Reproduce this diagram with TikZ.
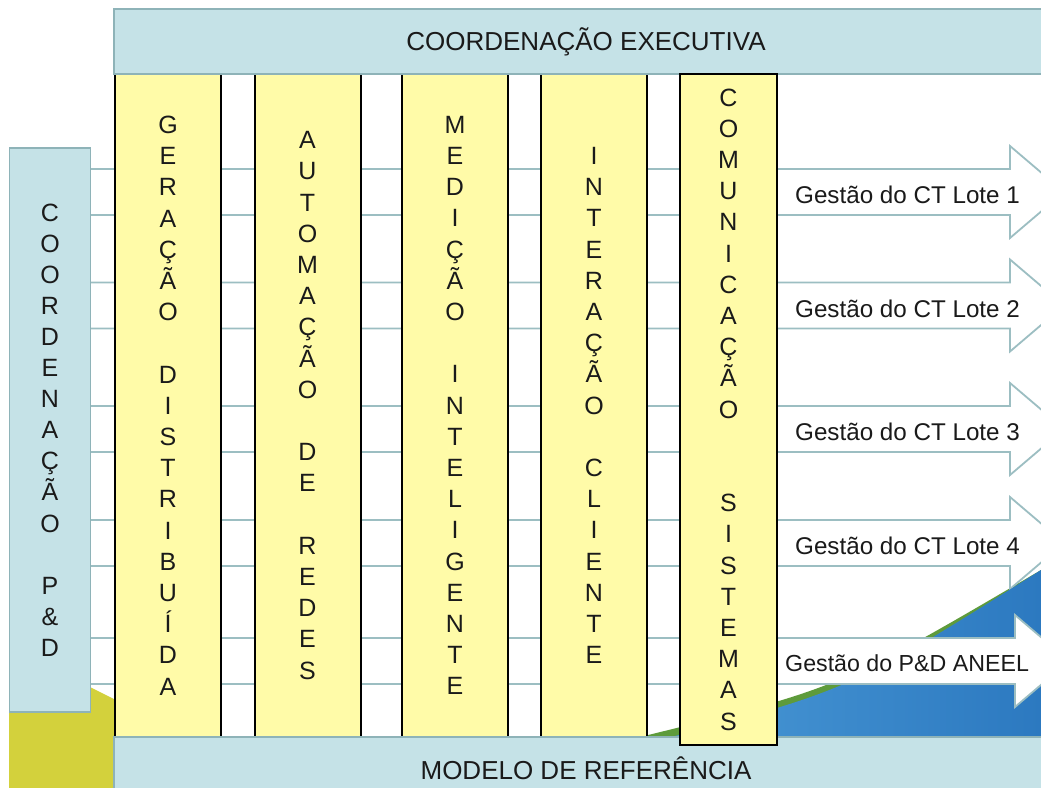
\documentclass[tikz,border=0pt]{standalone}
\usepackage{fontspec}
\setmainfont{Liberation Sans}
\definecolor{boxfill}{HTML}{C5E2E7}
\definecolor{boxline}{HTML}{8EB3B8}
\definecolor{colfill}{HTML}{FFFBA8}
\definecolor{arrline}{HTML}{9CBEC2}
\definecolor{olive}{HTML}{D3D13C}
\definecolor{grn}{HTML}{5E9B3B}
\definecolor{blueA}{HTML}{4A99D6}
\definecolor{blueB}{HTML}{2C79C0}
\definecolor{ink}{HTML}{1A1A1A}
\begin{document}
\begin{tikzpicture}[x=1pt,y=-1pt,
  boxstyle/.style={draw=boxline, fill=boxfill, line width=1.5pt, inner sep=0pt, text=ink},
  colstyle/.style={draw=black, fill=colfill, line width=2pt, inner sep=0pt, align=center, text=ink,
     minimum width=106pt, minimum height=663pt, font=\fontsize{25}{31.2}\selectfont},
  arrowstyle/.style={draw=arrline, fill=white, line width=1.8pt, line join=miter},
  lbl/.style={anchor=west, inner sep=0pt, text=ink, font=\fontsize{24.2}{28}\selectfont},
  ttl/.style={font=\fontsize{26}{30}\selectfont}]
\useasboundingbox (0,0) rectangle (1041,787);
\clip (0,0) rectangle (1041,787);
\fill[white] (0,0) rectangle (1041,787);
% background shapes
\fill[olive] (9,680) -- (90,687) -- (116,700) -- (116,790) -- (9,790) -- cycle;
\fill[grn] (640,737) .. controls (840,688) .. (1041,570) -- (1041,740) -- (640,740) -- cycle;
% arrows
\newcommand{\blockarrow}[2]{%
  \draw[arrowstyle] (60,#1-23) -- (#2,#1-23) -- (#2,#1-46) -- (#2+54,#1) -- (#2,#1+46) -- (#2,#1+23) -- (60,#1+23) -- cycle;}
\blockarrow{192}{1010}
\blockarrow{305.5}{1010}
\blockarrow{429}{1010}
\blockarrow{543}{1010}
\shade[left color=blueA, right color=blueB] (660,740) .. controls (850,690) .. (1041,570) -- (1041,740) -- cycle;
\blockarrow{661}{1015}
% columns
\node[colstyle] (c1) at (168,405.5) {G\\E\\R\\A\\Ç\\Ã\\O\\~\\D\\I\\S\\T\\R\\I\\B\\U\\Í\\D\\A};
\node[colstyle] (c2) at (307.5,405.5) {A\\U\\T\\O\\M\\A\\Ç\\Ã\\O\\~\\D\\E\\~\\R\\E\\D\\E\\S};
\node[colstyle] (c3) at (455,405.5) {M\\E\\D\\I\\Ç\\Ã\\O\\~\\I\\N\\T\\E\\L\\I\\G\\E\\N\\T\\E};
\node[colstyle] (c4) at (594,405.5) {I\\N\\T\\E\\R\\A\\Ç\\Ã\\O\\~\\C\\L\\I\\E\\N\\T\\E};
% horizontal boxes
\node[boxstyle, minimum width=944pt, minimum height=65pt, ttl] (exec) at (586,41.5) {COORDENAÇÃO EXECUTIVA};
\node[boxstyle, minimum width=944pt, minimum height=63pt, ttl] (ref) at (586,768.5) {MODELO DE REFERÊNCIA};
\node[boxstyle, minimum width=81pt, minimum height=564pt, align=center, font=\fontsize{25}{31.1}\selectfont] (pd) at (50,430)
  {C\\O\\O\\R\\D\\E\\N\\A\\Ç\\Ã\\O\\~\\P\\\&\\D};
\node[colstyle, minimum width=97pt, minimum height=671pt] (c5) at (728.5,409.5)
  {C\\O\\M\\U\\N\\I\\C\\A\\Ç\\Ã\\O\\~\\~\\S\\I\\S\\T\\E\\M\\A\\S};
% labels
\node[lbl] (l1) at (795,195) {Gestão do CT Lote 1};
\node[lbl] (l2) at (795,308.5) {Gestão do CT Lote 2};
\node[lbl] (l3) at (795,432) {Gestão do CT Lote 3};
\node[lbl] (l4) at (795,546) {Gestão do CT Lote 4};
\node[lbl, font=\fontsize{23.2}{28}\selectfont] (l5) at (785,663) {Gestão do P\&D ANEEL};
\end{tikzpicture}
\end{document}
